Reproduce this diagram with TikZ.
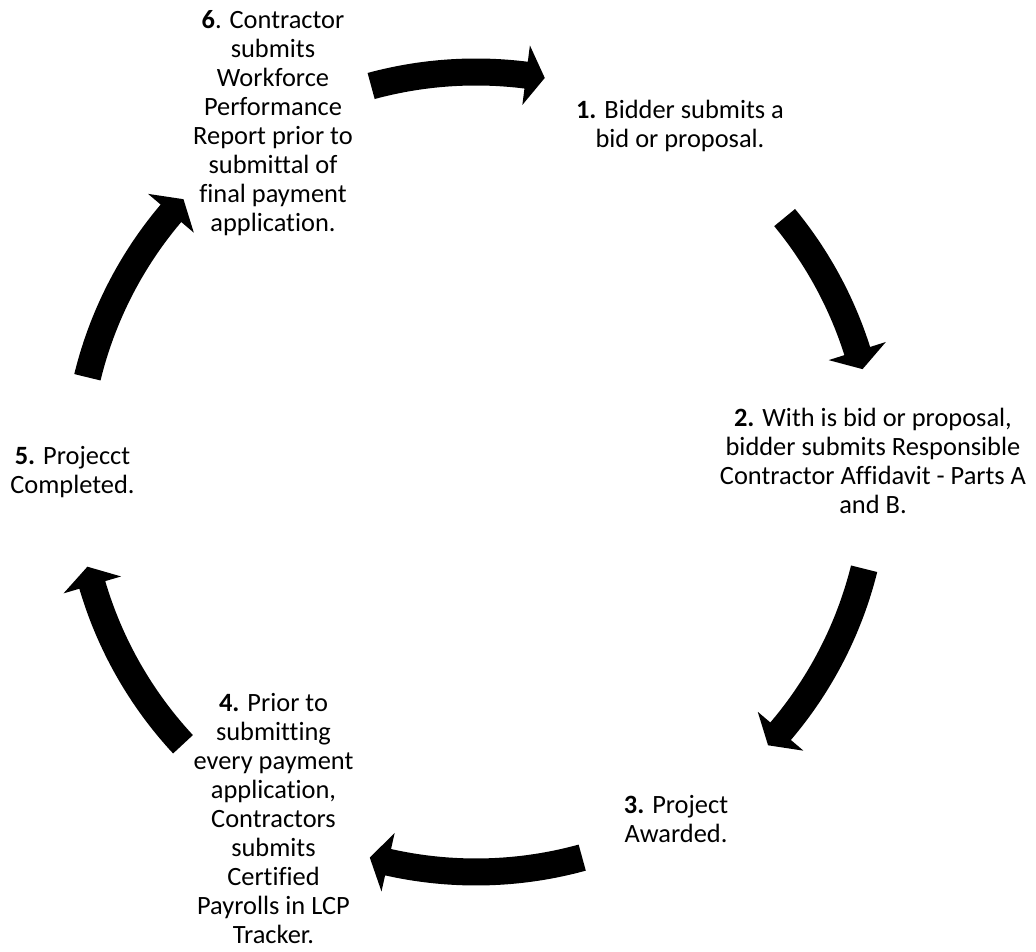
\documentclass[tikz,border=0pt]{standalone}
\usepackage{fontspec}
\setmainfont{Carlito}[Ligatures=NoCommon]
\tikzset{
  steptext/.style={align=center, inner sep=0pt, font=\fontsize{26.4}{29}\selectfont, text=black},
  arrowfill/.style={fill=black}
}
% #1 tail angle, #2 tip angle (clockwise arrow on circle around C)
\newcommand\cycarrow[2]{%
  \pgfmathsetmacro\hb{#2+2.7}%
  \fill[arrowfill,shift={(C)}] (#1:413.5pt) arc[start angle=#1, end angle=\hb, radius=413.5pt]
    -- (\hb:430pt) -- (#2:400pt) -- (\hb:370pt) -- (\hb:386.5pt)
    arc[start angle=\hb, end angle=#1, radius=386.5pt] -- cycle;
}
\begin{document}
\begin{tikzpicture}
  \useasboundingbox (0pt,0pt) rectangle (1036pt,952pt);
  \coordinate (C) at (476pt,480pt);

  \node[steptext] (s6) at (273pt,827.3pt) {\strut\textbf{6}. Contractor\\submits\\Workforce\\Performance\\Report prior to\\submittal of\\final payment\\application.\strut};
  \node[steptext] (s1) at (680pt,824.3pt) {\strut\textbf{1.} Bidder submits a\\bid or proposal.\strut};
  \node[steptext] (s2) at (873pt,487.3pt) {\strut\textbf{2.} With is bid or proposal,\\bidder submits Responsible\\Contractor Affidavit - Parts A\\and B.\strut};
  \node[steptext] (s3) at (676pt,129.8pt) {\strut\textbf{3.} Project\\Awarded.\strut};
  \node[steptext] (s4) at (273.5pt,129.8pt) {\strut\textbf{4.} Prior to\\submitting\\every payment\\application,\\Contractors\\submits\\Certified\\Payrolls in LCP\\Tracker.\strut};
  \node[steptext] (s5) at (72.5pt,478.3pt) {\strut\textbf{5.} Projecct\\Completed.\strut};

  \cycarrow{105.2}{80.1}
  \cycarrow{39.5}{14.9}
  \cycarrow{-14}{-43.1}
  \cycarrow{-74.6}{-105.4}
  \cycarrow{-137.1}{-166.3}
  \cycarrow{166.3}{137.0}
\end{tikzpicture}
\end{document}
